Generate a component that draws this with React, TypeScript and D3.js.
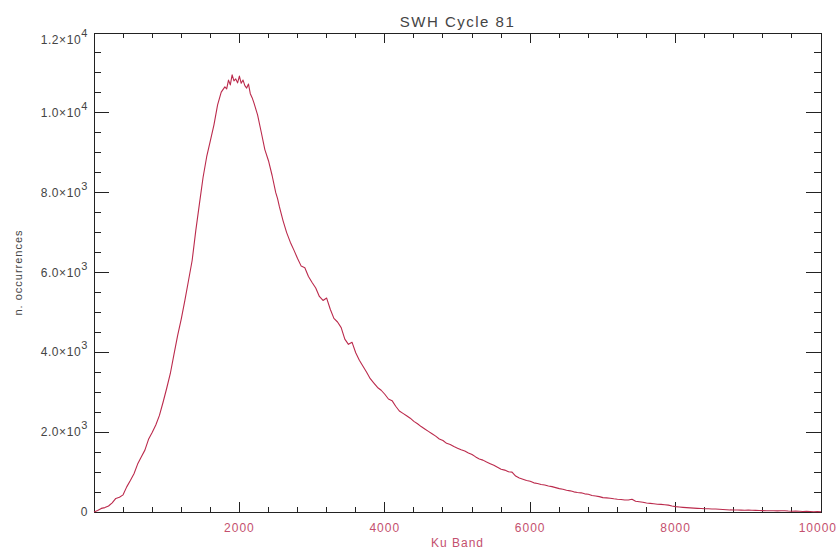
import React, { useEffect, useRef } from 'react';
import * as d3 from 'd3';

// SWH histogram, Ku band
const kuBand = [
  0, 50, 100, 150, 200, 250, 300, 350, 400, 450, 500, 550, 600, 650, 700, 750, 800, 850, 900, 950,
  1000, 1050, 1100, 1150, 1200, 1250, 1300, 1350, 1400, 1450, 1500, 1550, 1600, 1650, 1700, 1750,
  1800, 1825, 1850, 1875, 1900, 1925, 1950, 1975, 2000, 2025, 2050, 2075, 2100, 2125, 2150, 2175,
  2200, 2250, 2300, 2350, 2400, 2450, 2500, 2525, 2550, 2600, 2650, 2700, 2750, 2800, 2850, 2900,
  2950, 3000, 3050, 3100, 3150, 3200, 3250, 3300, 3350, 3400, 3450, 3500, 3550, 3600, 3650, 3700,
  3750, 3800, 3850, 3900, 3950, 4000, 4050, 4100, 4150, 4200, 4250, 4300, 4350, 4400, 4450, 4500,
  4550, 4600, 4650, 4700, 4750, 4800, 4850, 4900, 4950, 5000, 5050, 5100, 5150, 5200, 5250, 5300,
  5350, 5400, 5450, 5500, 5550, 5600, 5650, 5700, 5750, 5800, 5850, 5900, 5950, 6000, 6050, 6100,
  6150, 6200, 6250, 6300, 6350, 6400, 6450, 6500, 6550, 6600, 6650, 6700, 6750, 6800, 6850, 6900,
  6950, 7000, 7050, 7100, 7150, 7200, 7250, 7300, 7350, 7400, 7450, 7500, 7550, 7600, 7650, 7700,
  7750, 7800, 7850, 7900, 7950, 8000, 8050, 8100, 8150, 8200, 8250, 8300, 8350, 8400, 8450, 8500,
  8550, 8600, 8650, 8700, 8750, 8800, 8850, 8900, 8950, 9000, 9050, 9100, 9150, 9200, 9250, 9300,
  9350, 9400, 9450, 9500, 9550, 9600, 9650, 9700, 9750, 9800, 9850, 9900, 9950, 10000
];

const occurrences = [
  0, 40, 90, 110, 150, 230, 340, 370, 430, 630, 790, 960, 1200, 1380, 1550, 1820, 1990, 2180, 2420, 2750,
  3100, 3470, 3950, 4420, 4830, 5300, 5800, 6300, 7050, 7720, 8380, 8900, 9300, 9700, 10200, 10520,
  10650, 10600, 10820, 10700, 10950, 10800, 10850, 10750, 10920, 10740, 10820, 10680, 10620, 10720, 10480, 10380,
  10250, 9950, 9520, 9080, 8800, 8430, 8000, 7850, 7650, 7300, 7000, 6760, 6560, 6350, 6160, 6120,
  5900, 5750, 5610, 5400, 5300, 5360, 5080, 4850, 4760, 4620, 4330, 4200, 4250, 3990, 3800, 3650,
  3500, 3340, 3230, 3120, 3050, 2950, 2830, 2790, 2650, 2530, 2470, 2410, 2350, 2270, 2210, 2140,
  2080, 2020, 1960, 1900, 1830, 1790, 1720, 1690, 1640, 1600, 1560, 1530, 1480, 1440, 1380, 1330,
  1300, 1250, 1210, 1170, 1120, 1070, 1050, 1010, 1000, 900, 850, 820, 790, 770, 730, 715,
  690, 675, 650, 635, 610, 585, 570, 545, 530, 505, 490, 480, 455, 445, 415, 400,
  385, 360, 355, 345, 330, 320, 315, 300, 300, 320, 270, 258, 245, 225, 215, 205,
  195, 190, 180, 172, 150, 135, 125, 117, 110, 103, 97, 92, 88, 83, 80, 77,
  74, 68, 62, 58, 52, 50, 50, 48, 45, 47, 43, 40, 38, 35, 33, 30,
  32, 28, 30, 33, 25, 20, 22, 17, 14, 18, 12, 8, 10, 5
];

const xMajorTicks = [0, 2000, 4000, 6000, 8000, 10000];
const yMajorTicks = [0, 2000, 4000, 6000, 8000, 10000, 12000];
const yTickLabels = [
  { mant: '0', exp: '' },
  { mant: '2.0×10', exp: '3' },
  { mant: '4.0×10', exp: '3' },
  { mant: '6.0×10', exp: '3' },
  { mant: '8.0×10', exp: '3' },
  { mant: '1.0×10', exp: '4' },
  { mant: '1.2×10', exp: '4' }
];

const W = 838;
const H = 550;
const margin = { top: 33, right: 17, bottom: 38, left: 94 };
const FONT = 'Liberation Sans, DejaVu Sans, sans-serif';
const AXIS = '#222';
const TEXT = '#444';
const PINK = '#c4506e';
const LINE = '#bb2a4c';

const App: React.FC = () => {
  const svgRef = useRef<SVGSVGElement>(null);

  useEffect(() => {
    if (!svgRef.current) return;
    const svg = d3.select(svgRef.current);
    svg.selectAll('*').remove();

    const x = d3.scaleLinear().domain([0, 10000]).range([margin.left, W - margin.right]);
    const y = d3.scaleLinear().domain([0, 12000]).range([H - margin.bottom, margin.top]);
    const x0 = x(0), x1 = x(10000), y0 = y(0), y1 = y(12000);

    // frame
    svg.append('rect')
      .attr('x', x0).attr('y', y1)
      .attr('width', x1 - x0).attr('height', y0 - y1)
      .attr('fill', 'none').attr('stroke', AXIS).attr('stroke-width', 1)
      .attr('shape-rendering', 'crispEdges');

    const ticks = svg.append('g').attr('stroke', AXIS).attr('stroke-width', 1)
      .attr('shape-rendering', 'crispEdges');

    // x ticks (bottom + top), 5 minor intervals
    const xMinor = d3.range(0, 10001, 400).filter(v => !xMajorTicks.includes(v));
    const xTickLen = (y0 - y1) * 0.02;
    const xTicks = [
      ...xMajorTicks.map(v => ({ v, len: xTickLen })),
      ...xMinor.map(v => ({ v, len: xTickLen / 2 }))
    ];
    xTicks.forEach(t => {
      ticks.append('line').attr('x1', x(t.v)).attr('x2', x(t.v)).attr('y1', y0).attr('y2', y0 - t.len);
      ticks.append('line').attr('x1', x(t.v)).attr('x2', x(t.v)).attr('y1', y1).attr('y2', y1 + t.len);
    });

    // y ticks (left + right), 4 minor intervals
    const yMinor = d3.range(0, 12001, 500).filter(v => !yMajorTicks.includes(v));
    const yTickLen = (x1 - x0) * 0.02;
    const yTicks = [
      ...yMajorTicks.map(v => ({ v, len: yTickLen })),
      ...yMinor.map(v => ({ v, len: yTickLen / 2 }))
    ];
    yTicks.forEach(t => {
      ticks.append('line').attr('x1', x0).attr('x2', x0 + t.len).attr('y1', y(t.v)).attr('y2', y(t.v));
      ticks.append('line').attr('x1', x1).attr('x2', x1 - t.len).attr('y1', y(t.v)).attr('y2', y(t.v));
    });

    // x tick labels (no label at 0); last one kept inside the page
    svg.append('g')
      .selectAll('text')
      .data(xMajorTicks.filter(v => v > 0))
      .enter()
      .append('text')
      .attr('x', d => (d === 10000 ? W - 1 : x(d)))
      .attr('y', y0 + 20)
      .attr('text-anchor', d => (d === 10000 ? 'end' : 'middle'))
      .style('font-family', FONT)
      .style('font-size', '12px')
      .style('letter-spacing', '1px')
      .style('fill', PINK)
      .text(d => String(d));

    // y tick labels with superscript exponents
    const yl = svg.append('g');
    yMajorTicks.forEach((v, i) => {
      const lab = yTickLabels[i];
      const ty = Math.max(y(v), y1 + 7);
      const t = yl.append('text')
        .attr('x', x0 - 6)
        .attr('y', ty + 4)
        .attr('text-anchor', 'end')
        .style('font-family', FONT)
        .style('font-size', '12px')
        .style('letter-spacing', '0.6px')
        .style('fill', TEXT);
      t.append('tspan').text(lab.mant);
      if (lab.exp) {
        t.append('tspan').attr('dy', -7).style('font-size', '11px').text(lab.exp);
      }
    });

    // data line
    const pts = kuBand.map((k, i) => [k, occurrences[i]] as [number, number]);
    const line = d3.line<[number, number]>().x(d => x(d[0])).y(d => y(d[1]));
    svg.append('path')
      .datum(pts)
      .attr('d', line)
      .attr('fill', 'none')
      .attr('stroke', LINE)
      .attr('stroke-width', 1.1)
      .attr('stroke-linejoin', 'round');

    // title
    svg.append('text')
      .attr('x', (x0 + x1) / 2)
      .attr('y', 27)
      .attr('text-anchor', 'middle')
      .style('font-family', FONT)
      .style('font-size', '15px')
      .style('letter-spacing', '1.5px')
      .style('fill', TEXT)
      .text('SWH Cycle 81');

    // x axis title
    svg.append('text')
      .attr('x', (x0 + x1) / 2)
      .attr('y', H - 3)
      .attr('text-anchor', 'middle')
      .style('font-family', FONT)
      .style('font-size', '12px')
      .style('letter-spacing', '1px')
      .style('fill', PINK)
      .text('Ku Band');

    // y axis title
    svg.append('text')
      .attr('transform', `translate(22, ${(y0 + y1) / 2}) rotate(-90)`)
      .attr('text-anchor', 'middle')
      .style('font-family', FONT)
      .style('font-size', '11px')
      .style('letter-spacing', '1px')
      .style('fill', TEXT)
      .text('n. occurrences');
  }, []);

  return (
    <div style={{ position: 'absolute', left: 0, top: 0, width: W, height: H, background: '#fff' }}>
      <svg ref={svgRef} width={W} height={H} style={{ display: 'block' }} />
    </div>
  );
};

export default App;
